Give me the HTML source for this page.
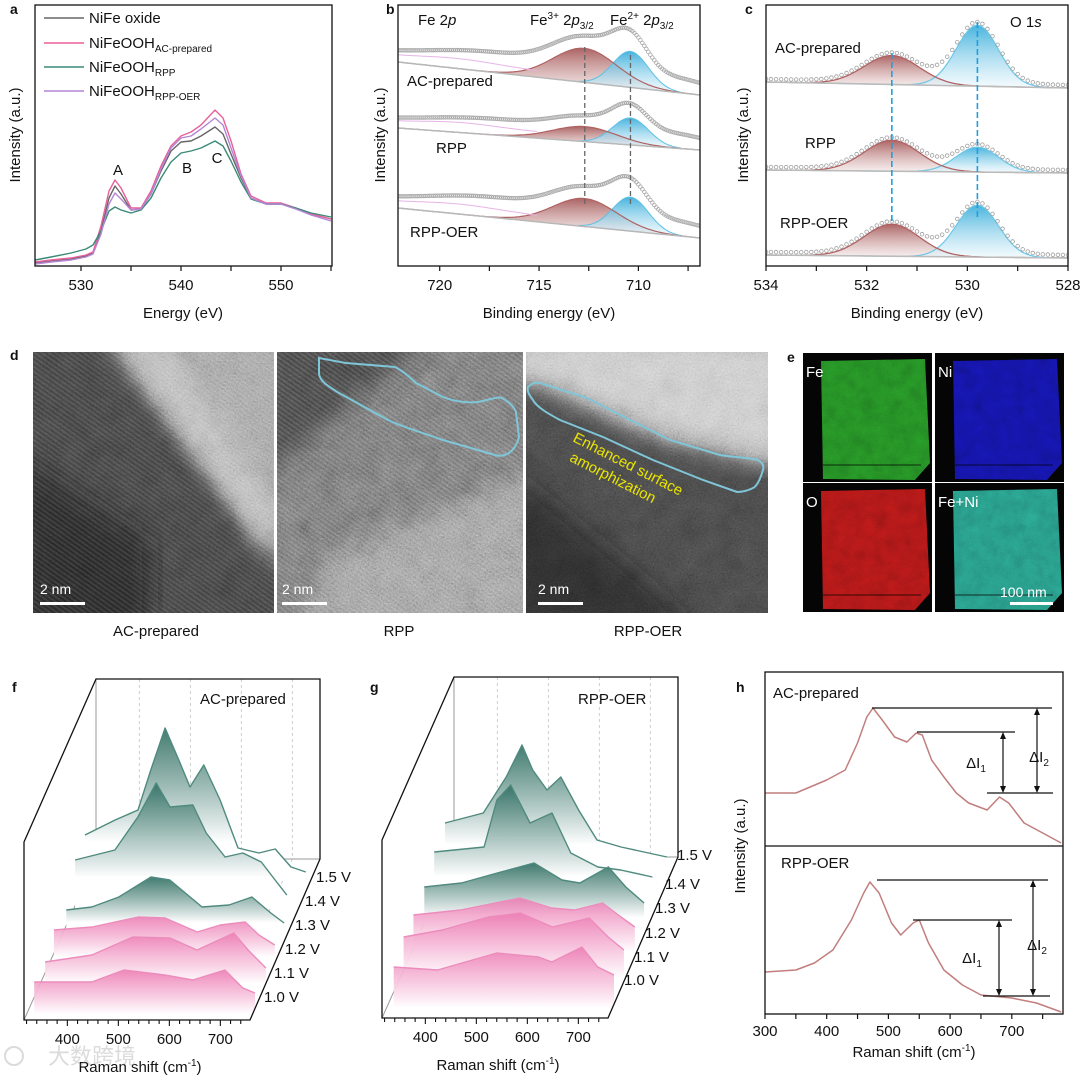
<!DOCTYPE html>
<html><head><meta charset="utf-8"><style>
html,body{margin:0;padding:0;background:#fff;}
svg{display:block;font-family:"Liberation Sans","Noto Sans CJK SC",sans-serif;}
</style></head><body>
<svg id="fig" width="1080" height="1078" viewBox="0 0 1080 1078" xmlns="http://www.w3.org/2000/svg">
<defs>
<filter id="noise" x="0" y="0" width="100%" height="100%"><feTurbulence type="fractalNoise" baseFrequency="0.6" numOctaves="2" seed="4"/><feColorMatrix type="matrix" values="0.33 0.33 0.33 0 0 0.33 0.33 0.33 0 0 0.33 0.33 0.33 0 0 0 0 0 0 1"/></filter>
<filter id="noiseMid" x="0" y="0" width="100%" height="100%"><feTurbulence type="fractalNoise" baseFrequency="0.05" numOctaves="3" seed="7"/><feColorMatrix type="matrix" values="0.33 0.33 0.33 0 0 0.33 0.33 0.33 0 0 0.33 0.33 0.33 0 0 0 0 0 0 1"/></filter>
<filter id="noise2" x="0" y="0" width="100%" height="100%"><feTurbulence type="fractalNoise" baseFrequency="0.08" numOctaves="3" seed="9"/><feColorMatrix type="matrix" values="0.33 0.33 0.33 0 0 0.33 0.33 0.33 0 0 0.33 0.33 0.33 0 0 0 0 0 0 1"/></filter>
<filter id="blur8"><feGaussianBlur stdDeviation="12"/></filter>
<pattern id="fringe" width="4" height="4" patternUnits="userSpaceOnUse" patternTransform="rotate(35)"><rect width="4" height="2" fill="#fff"/></pattern>
<linearGradient id="gRed" x1="0" y1="0" x2="0" y2="1"><stop offset="0" stop-color="#a85c5c" stop-opacity="0.95"/><stop offset="1" stop-color="#f4e8e8" stop-opacity="0.6"/></linearGradient>
<linearGradient id="gBlue" x1="0" y1="0" x2="0" y2="1"><stop offset="0" stop-color="#3fb0dc" stop-opacity="0.95"/><stop offset="1" stop-color="#eaf7fc" stop-opacity="0.6"/></linearGradient>
<linearGradient id="gGreen" x1="0" y1="0" x2="0" y2="1"><stop offset="0" stop-color="#2f6e62" stop-opacity="0.9"/><stop offset="0.75" stop-color="#ffffff"/><stop offset="1" stop-color="#ffffff"/></linearGradient>
<linearGradient id="gPink" x1="0" y1="0" x2="0" y2="1"><stop offset="0" stop-color="#ec7ab2" stop-opacity="0.85"/><stop offset="0.8" stop-color="#ffffff"/><stop offset="1" stop-color="#ffffff"/></linearGradient>
<clipPath id="clipB"><rect x="398" y="5" width="302" height="261"/></clipPath>
<clipPath id="clipC"><rect x="766" y="5" width="302" height="261"/></clipPath>
<clipPath id="clipT1"><rect x="33" y="352" width="241" height="261"/></clipPath>
<clipPath id="clipT2"><rect x="277" y="352" width="246" height="261"/></clipPath>
<clipPath id="clipT3"><rect x="526" y="352" width="242" height="261"/></clipPath>
</defs>

<g font-size="15" fill="#111">
<text x="10" y="14" font-weight="bold" font-size="14">a</text>
<text x="386" y="14" font-weight="bold" font-size="14">b</text>
<text x="745" y="14" font-weight="bold" font-size="14">c</text>
<text x="10" y="360" font-weight="bold" font-size="14">d</text>
<text x="787" y="362" font-weight="bold" font-size="14">e</text>
<text x="12" y="692" font-weight="bold" font-size="14">f</text>
<text x="370" y="692" font-weight="bold" font-size="14">g</text>
<text x="736" y="692" font-weight="bold" font-size="14">h</text>

<text transform="translate(20,135) rotate(-90)" text-anchor="middle">Intensity (a.u.)</text>
<text x="183" y="318" text-anchor="middle">Energy (eV)</text>
<text transform="translate(385,135) rotate(-90)" text-anchor="middle">Intensity (a.u.)</text>
<text x="549" y="318" text-anchor="middle">Binding energy (eV)</text>
<text transform="translate(748,135) rotate(-90)" text-anchor="middle">Intensity (a.u.)</text>
<text x="917" y="318" text-anchor="middle">Binding energy (eV)</text>

<text x="118" y="175" text-anchor="middle">A</text>
<text x="187" y="173" text-anchor="middle">B</text>
<text x="217" y="163" text-anchor="middle">C</text>

<text x="418" y="25">Fe 2<tspan font-style="italic">p</tspan></text>
<text x="530" y="25">Fe<tspan font-size="10" dy="-6">3+</tspan><tspan dy="6"> 2</tspan><tspan font-style="italic">p</tspan><tspan font-size="10" dy="4">3/2</tspan></text>
<text x="610" y="25">Fe<tspan font-size="10" dy="-6">2+</tspan><tspan dy="6"> 2</tspan><tspan font-style="italic">p</tspan><tspan font-size="10" dy="4">3/2</tspan></text>
<text x="407" y="86">AC-prepared</text>
<text x="436" y="153">RPP</text>
<text x="410" y="237">RPP-OER</text>

<text x="1010" y="27">O 1<tspan font-style="italic">s</tspan></text>
<text x="775" y="53">AC-prepared</text>
<text x="805" y="148">RPP</text>
<text x="780" y="228">RPP-OER</text>

<text x="156" y="636" text-anchor="middle">AC-prepared</text>
<text x="399" y="636" text-anchor="middle">RPP</text>
<text x="648" y="636" text-anchor="middle">RPP-OER</text>

<text x="200" y="704">AC-prepared</text>
<text x="578" y="704">RPP-OER</text>
<text x="140" y="1072" text-anchor="middle">Raman shift (cm<tspan font-size="10" dy="-6">-1</tspan><tspan dy="6">)</tspan></text>
<text x="498" y="1070" text-anchor="middle">Raman shift (cm<tspan font-size="10" dy="-6">-1</tspan><tspan dy="6">)</tspan></text>

<text x="773" y="698">AC-prepared</text>
<text x="781" y="868">RPP-OER</text>
<text transform="translate(745,846) rotate(-90)" text-anchor="middle">Intensity (a.u.)</text>
<text x="914" y="1057" text-anchor="middle">Raman shift (cm<tspan font-size="10" dy="-6">-1</tspan><tspan dy="6">)</tspan></text>
</g>

<!-- TEM images -->
<g clip-path="url(#clipT1)">
<rect x="33" y="352" width="241" height="261" fill="#303030"/>
<polygon points="100,330 300,330 300,580" fill="#7a7a7a" filter="url(#blur8)"/>
<polygon points="125,345 160,345 274,510 274,560" fill="#b0b0b0" filter="url(#blur8)" opacity="0.8"/>
<polygon points="20,460 150,540 150,630 20,630" fill="#151515" filter="url(#blur8)" opacity="0.7"/>
<rect x="33" y="352" width="241" height="261" filter="url(#noiseMid)" opacity="0.35" style="mix-blend-mode:overlay"/>
<rect x="33" y="352" width="241" height="261" fill="url(#fringe)" opacity="0.07"/>
<rect x="33" y="352" width="241" height="261" filter="url(#noise)" opacity="0.6" style="mix-blend-mode:overlay"/>
</g>
<g clip-path="url(#clipT2)">
<rect x="277" y="352" width="246" height="261" fill="#555"/>
<polygon points="260,330 440,330 260,480" fill="#303030" filter="url(#blur8)"/>
<polygon points="330,560 540,470 540,630 300,630" fill="#727272" filter="url(#blur8)"/>
<rect x="277" y="352" width="246" height="261" filter="url(#noiseMid)" opacity="0.35" style="mix-blend-mode:overlay"/>
<rect x="277" y="352" width="246" height="261" fill="url(#fringe)" opacity="0.08"/>
<rect x="277" y="352" width="246" height="261" filter="url(#noise)" opacity="0.65" style="mix-blend-mode:overlay"/>
</g>
<g clip-path="url(#clipT3)">
<rect x="526" y="352" width="242" height="261" fill="#353535"/>
<polygon points="510,335 790,335 790,465 660,435 540,382 510,375" fill="#b0b0b0" filter="url(#blur8)"/>
<polygon points="510,470 620,560 700,630 510,630" fill="#181818" filter="url(#blur8)" opacity="0.6"/>
<rect x="526" y="352" width="242" height="261" filter="url(#noiseMid)" opacity="0.35" style="mix-blend-mode:overlay"/>
<rect x="526" y="352" width="242" height="261" filter="url(#noise)" opacity="0.65" style="mix-blend-mode:overlay"/>
</g>
<path d="M319,358 C330,360 340,362 346,363 L395,367 C405,372 410,378 416,383 L443,397 C455,402 470,403 478,402 C490,400 498,396 502,398 C512,404 516,410 516,413 L519,437 C515,452 505,458 495,455 L443,440 C420,432 400,426 388,420 L339,393 C326,385 319,380 319,373 Z" fill="none" stroke="#7fc6d8" stroke-width="2"/>
<path d="M528,387 C532,383 536,382 540,383 L587,398 L630,420 L670,440 L720,455 C740,458 752,458 758,460 C763,463 764,466 763,470 C760,480 757,486 753,488 C747,491 742,492 737,492 L703,480 L653,460 L603,437 L560,420 C545,412 536,406 533,400 C528,394 527,390 528,387 Z" fill="none" stroke="#7fc6d8" stroke-width="2"/>
<g transform="translate(572,441) rotate(27)" font-size="15" fill="#e8e400">
<text x="0" y="0">Enhanced surface</text>
<text x="6" y="19">amorphization</text>
</g>
<g fill="#fff" font-size="14">
<text x="40" y="594">2 nm</text>
<rect x="40" y="602" width="45" height="3"/>
<text x="282" y="594">2 nm</text>
<rect x="282" y="602" width="45" height="3"/>
<text x="538" y="594">2 nm</text>
<rect x="538" y="602" width="45" height="3"/>
</g>

<g id="eds"></g>
<g id="plots"></g>

<g opacity="0.35" fill="#999">
<circle cx="14" cy="1056" r="9" fill="none" stroke="#999" stroke-width="2"/>
<text x="48" y="1064" font-size="22" font-family="'Noto Sans CJK SC',sans-serif">大数跨境</text>
</g>
</svg>

<script>
// ================= DATA =================
const aEnergy = [525.4,527,529,530.5,531.2,532,532.8,533.4,534,535,536,537,538,539,540,541,542,543.4,544.2,545,546,547,548.5,550,551.5,553,555];
const aNiFeOxide = [3,5,7,10,13,35,68,80,72,56,57,72,95,115,124,125,130,139,132,112,88,68,62,62,57,52,47];
const aAcPrepared = [4,6,8,11,14,40,75,86,78,58,58,75,100,120,130,134,141,156,148,125,92,70,63,63,58,52,47];
const aRpp = [6,9,13,17,21,35,55,59,56,53,56,68,88,104,113,115,118,125,120,105,84,67,62,62,58,53,49];
const aRppOer = [2,4,6,9,12,32,62,73,67,56,57,72,97,118,128,130,137,148,141,118,90,68,62,62,57,51,45];
const aSeriesNames = ["NiFe oxide","NiFeOOH","NiFeOOH","NiFeOOH"];
const aSeriesSubs = ["","AC-prepared","RPP","RPP-OER"];
const aTicks = [530,540,550];

const bSamples = ["AC-prepared","RPP","RPP-OER"];
const bBgLeft = [204,138,58];
const bBgRight = [171,116,28];
const bFe3Height = [34,15,28];
const bFe2Height = [36,27,34];
const bSatHeight = [12,8,12];
const bFe3Center = 712.7, bFe2Center = 710.4;
const bTicks = [720,715,710];

const cBgLeft = [184,96,11];
const cBgRight = [178,93,8];
const cOxHeight = [29,31,32];
const cLatHeight = [61,25,52];
const cOxCenter = 531.5, cLatCenter = 529.8;
const cTicks = [534,532,530,528];

const ramanVoltages = ["1.0 V","1.1 V","1.2 V","1.3 V","1.4 V","1.5 V"];
const ramanTicks = [400,500,600,700];
const fR = [
 [335,448,511,591,646,709,744,768],
 [332,424,504,577,630,702,730,765],
 [325,400,490,543,606,651,700,727,758],
 [325,375,428,491,528,591,644,689,726,752],
 [318,396,441,477,504,549,575,612,647,683,710,733],
 [313,372,417,442,470,497,519,546,578,613,654,686,717,746]
];
const fH = [
 [13,13,25,20,15,25,7,2],
 [4,11,29,28,16,33,16,-2],
 [7,10,20,19,5,12,15,2,-8],
 [-2,1,11,31,28,1,3,11,-5,-15],
 [19,29,62,96,72,74,46,22,26,17,-1,-16],
 [15,30,40,80,122,90,63,85,50,2,-3,1,-17,-22]
];
const gR = [
 [338,424,540,622,648,707,738,770],
 [333,409,499,562,625,697,734,765],
 [328,420,537,599,644,699,735,762],
 [325,398,468,540,595,630,686,720,756],
 [320,418,443,470,508,551,588,641,686,748],
 [317,392,437,468,489,517,544,579,615,662,707,752]
];
const gH = [
 [26,23,40,36,31,46,26,18],
 [27,34,47,51,37,46,27,14],
 [20,25,37,27,25,32,18,8],
 [19,23,33,43,26,23,39,19,3],
 [25,30,77,92,54,64,24,10,7,0],
 [25,35,71,103,78,58,71,38,8,1,-4,-9]
];

const hAcShift = [300,350,400,430,450,465,475,490,510,530,545,555,570,590,610,630,660,680,695,720,750,780];
const hAcInt = [53,53,66,76,103,129,138,126,109,104,113,111,86,69,53,43,36,49,43,23,13,3];
const hOerShift = [300,350,380,410,440,460,470,485,505,520,540,550,565,590,620,650,700,740,780];
const hOerInt = [42,44,51,64,94,121,132,121,91,79,91,94,71,44,29,19,16,11,2];
const hTicks = [300,400,500,600,700];

// ================= HELPERS =================
const NS = "http://www.w3.org/2000/svg";
const root = document.getElementById("plots");
function mk(tag, attrs, parent) {
  const e = document.createElementNS(NS, tag);
  for (const k in attrs) e.setAttribute(k, attrs[k]);
  (parent || root).appendChild(e);
  return e;
}
function nm(el, n) {
  
  
}
function gauss(x, c, h, s) { return h * Math.exp(-(x - c) * (x - c) / (2 * s * s)); }
function pathOf(pts) { return pts.map((p, i) => (i ? "L" : "M") + p[0].toFixed(1) + "," + p[1].toFixed(1)).join(""); }
function txt(x, y, s, parent, anchor, size) {
  const t = mk("text", {x: x, y: y, "font-size": size || 15, "text-anchor": anchor || "middle", fill: "#111"}, parent);
  t.textContent = s;
  return t;
}

// ================= PANEL A =================
const xa = e => 35 + (e - 525.4) * (297 / 29.7);
const ya = v => 266 - v;
{
  const g = mk("g", {});
  nm(g, "panel-a-chart");
  const colors = ["#666666", "#e8609a", "#3a8a78", "#b486d6"];
  const series = [aNiFeOxide, aAcPrepared, aRpp, aRppOer];
  const names = ["line-nife-oxide", "line-ac-prepared", "line-rpp", "line-rpp-oer"];
  series.forEach((s, k) => {
    const pts = aEnergy.map((e, i) => [xa(e), ya(s[i])]);
    const p = mk("path", {d: pathOf(pts), fill: "none", stroke: colors[k], "stroke-width": 1.4, "stroke-linejoin": "round"}, g);
    nm(p, names[k]);
  });
  const frame = mk("rect", {x: 35, y: 5, width: 297, height: 261, fill: "none", stroke: "#111", "stroke-width": 1.3}, g);
  nm(frame, "a-plot-frame");
  for (let e = 530; e <= 555; e += 5) {
    const t = mk("line", {x1: xa(e), x2: xa(e), y1: 266, y2: 271, stroke: "#111", "stroke-width": 1.2}, g);
    nm(t, "a-x-tick");
  }
  aTicks.forEach(v => { const t = txt(xa(v), 290, String(v), g); nm(t, "a-x-tick-label"); });
  const ly = [18, 43, 67, 91];
  aSeriesNames.forEach((n, k) => {
    const l = mk("line", {x1: 44, x2: 84, y1: ly[k], y2: ly[k], stroke: colors[k], "stroke-width": 1.6}, g);
    nm(l, "legend-line-" + names[k].slice(5));
    const t = mk("text", {x: 89, y: ly[k] + 5, "font-size": 15, fill: "#111"}, g);
    nm(t, "legend-entry-" + names[k].slice(5));
    t.textContent = n;
    if (aSeriesSubs[k]) {
      const ts = mk("tspan", {"font-size": 10, dy: 4}, t);
      ts.textContent = aSeriesSubs[k];
    }
  });
}

// ================= PANEL B =================
const xb = e => 398 + (722.1 - e) * (302 / 15.2);
const yb = v => 266 - v;
{
  const g = mk("g", {"clip-path": "url(#clipB)"});
  nm(g, "panel-b-chart");
  const es = [];
  for (let e = 722.1; e >= 706.8; e -= 0.1) es.push(e);
  bSamples.forEach((s, k) => {
    const bg = e => bBgLeft[k] + (bBgRight[k] - bBgLeft[k]) * (722.1 - e) / 15.2;
    const red = e => gauss(e, bFe3Center, bFe3Height[k], 1.6);
    const blue = e => gauss(e, bFe2Center, bFe2Height[k], 0.9);
    const sat = e => gauss(e, 717.5, bSatHeight[k], 3) + 8 + gauss(e, 708, 6, 1.2);
    const key = s.toLowerCase();
    const pr = es.map(e => [xb(e), yb(bg(e) + red(e))]);
    const bgp = es.map(e => [xb(e), yb(bg(e))]).reverse();
    const fr = mk("path", {d: pathOf(pr.concat(bgp)) + "Z", fill: "url(#gRed)", stroke: "none"}, g);
    nm(fr, "b-fe3-peak-" + key);
    const pb = es.filter(e => blue(e) > 0.5).map(e => [xb(e), yb(bg(e) + blue(e))]);
    const bgb = es.filter(e => blue(e) > 0.5).map(e => [xb(e), yb(bg(e))]).reverse();
    const fb = mk("path", {d: pathOf(pb.concat(bgb)) + "Z", fill: "url(#gBlue)", stroke: "#5cc0e4", "stroke-width": 1}, g);
    nm(fb, "b-fe2-peak-" + key);
    const lr = mk("path", {d: pathOf(pr), fill: "none", stroke: "#b06262", "stroke-width": 1.2}, g);
    nm(lr, "b-fe3-fit-line-" + key);
    const lb = mk("path", {d: pathOf(bgp), fill: "none", stroke: "#b8b8b8", "stroke-width": 1.5}, g);
    nm(lb, "b-background-" + key);
    const lp = mk("path", {d: pathOf(es.filter(e => e > 715).map(e => [xb(e), yb(bg(e) + 6 + gauss(e, 719, 4, 2))])), fill: "none", stroke: "#e6b4e6", "stroke-width": 1}, g);
    nm(lp, "b-satellite-fit-" + key);
    const dots = mk("g", {fill: "none", stroke: "#a8a8a8", "stroke-width": 0.8}, g);
    nm(dots, "b-data-points-" + key);
    for (let i = 0; i < es.length; i += 1) {
      const e = es[i];
      const c = mk("circle", {cx: xb(e), cy: yb(bg(e) + red(e) + blue(e) + sat(e)), r: 1.8}, dots);
      nm(c, "b-data-point");
    }
  });
  [[bFe3Center, 47], [bFe2Center, 55]].forEach(([e, top], k) => {
    const l = mk("line", {x1: xb(e), x2: xb(e), y1: top, y2: 205, stroke: "#666", "stroke-width": 1.3, "stroke-dasharray": "5,3"}, g);
    nm(l, k ? "b-fe2-guide-line" : "b-fe3-guide-line");
  });
  const frame = mk("rect", {x: 398, y: 5, width: 302, height: 261, fill: "none", stroke: "#111", "stroke-width": 1.3});
  nm(frame, "b-plot-frame");
  for (let e = 720; e >= 707.5; e -= 2.5) {
    const t = mk("line", {x1: xb(e), x2: xb(e), y1: 266, y2: 271, stroke: "#111", "stroke-width": 1.2});
    nm(t, "b-x-tick");
  }
  bTicks.forEach(v => { const t = txt(xb(v), 290, String(v)); nm(t, "b-x-tick-label"); });
}

// ================= PANEL C =================
const xc = e => 766 + (534 - e) * (302 / 6);
const yc = v => 266 - v;
{
  const g = mk("g", {"clip-path": "url(#clipC)"});
  nm(g, "panel-c-chart");
  const es = [];
  for (let e = 534; e >= 527.95; e -= 0.05) es.push(e);
  bSamples.forEach((s, k) => {
    const key = s.toLowerCase();
    const bg = e => cBgLeft[k] + (cBgRight[k] - cBgLeft[k]) * (534 - e) / 6;
    const red = e => gauss(e, cOxCenter, cOxHeight[k], 0.55);
    const blue = e => gauss(e, cLatCenter, cLatHeight[k], 0.42);
    const pr = es.map(e => [xc(e), yc(bg(e) + red(e))]);
    const bgp = es.map(e => [xc(e), yc(bg(e))]).reverse();
    const fr = mk("path", {d: pathOf(pr.concat(bgp)) + "Z", fill: "url(#gRed)"}, g);
    nm(fr, "c-oxygen-peak-" + key);
    const sel = es.filter(e => blue(e) > 2);
    const pb = sel.map(e => [xc(e), yc(bg(e) + blue(e))]);
    const fb = mk("path", {d: pathOf(pb.concat(sel.map(e => [xc(e), yc(bg(e))]).reverse())) + "Z", fill: "url(#gBlue)"}, g);
    nm(fb, "c-lattice-peak-" + key);
    const bl = mk("path", {d: pathOf(es.map(e => [xc(e), yc(bg(e) + blue(e))])), fill: "none", stroke: "#6cc6e6", "stroke-width": 1.2}, g);
    nm(bl, "c-lattice-fit-line-" + key);
    const rl = mk("path", {d: pathOf(pr), fill: "none", stroke: "#b06262", "stroke-width": 1.3}, g);
    nm(rl, "c-oxygen-fit-line-" + key);
    const bgl = mk("line", {x1: 766, x2: 1068, y1: yc(cBgLeft[k]), y2: yc(cBgRight[k]), stroke: "#bbbbbb", "stroke-width": 1.6}, g);
    nm(bgl, "c-background-" + key);
    const dots = mk("g", {fill: "none", stroke: "#a0a0a0", "stroke-width": 0.8}, g);
    nm(dots, "c-data-points-" + key);
    for (let i = 0; i < es.length; i += 2) {
      const e = es[i];
      const c = mk("circle", {cx: xc(e), cy: yc(bg(e) + red(e) + blue(e) + 3), r: 1.8}, dots);
      nm(c, "c-data-point");
    }
  });
  const l1 = mk("line", {x1: xc(cOxCenter), x2: xc(cOxCenter), y1: 53, y2: 223, stroke: "#1ea0e0", "stroke-width": 1.6, "stroke-dasharray": "6,3"}, g);
  nm(l1, "c-oxygen-guide-line");
  const l2 = mk("line", {x1: xc(cLatCenter), x2: xc(cLatCenter), y1: 22, y2: 217, stroke: "#1ea0e0", "stroke-width": 1.6, "stroke-dasharray": "6,3"}, g);
  nm(l2, "c-lattice-guide-line");
  const frame = mk("rect", {x: 766, y: 5, width: 302, height: 261, fill: "none", stroke: "#111", "stroke-width": 1.3});
  nm(frame, "c-plot-frame");
  for (let e = 534; e >= 528; e -= 1) {
    const t = mk("line", {x1: xc(e), x2: xc(e), y1: 266, y2: 271, stroke: "#111", "stroke-width": 1.2});
    nm(t, "c-x-tick");
  }
  cTicks.forEach(v => { const t = txt(xc(v), 290, String(v)); nm(t, "c-x-tick-label"); });
}

// ================= PANEL E (EDS) =================
{
  const eg = document.getElementById("eds");
  const tiles = [[803,353,"Fe","#2fb52f"],[935,353,"Ni","#1a1ad2"],[803,483,"O","#dc1e1e"],[935,483,"Fe+Ni","#33c4ae"]];
  tiles.forEach(([x, y, lab, col]) => {
    const tg = mk("g", {}, eg);
    nm(tg, "eds-map-" + lab.toLowerCase().replace("+", "-"));
    mk("rect", {x: x, y: y, width: 129, height: 129, fill: "#050505"}, tg);
    mk("polygon", {points: [x+18,y+8, x+122,y+6, x+127,y+110, x+112,y+127, x+20,y+126].join(","), fill: col}, tg);
    mk("rect", {x: x+18, y: y+6, width: 110, height: 121, fill: "#000", filter: "url(#noise2)", opacity: 0.45, style: "mix-blend-mode:multiply"}, tg);
    mk("rect", {x: x+18, y: y+6, width: 110, height: 121, fill: "#000", filter: "url(#noise)", opacity: 0.25, style: "mix-blend-mode:multiply"}, tg);
    mk("line", {x1: x+20, x2: x+118, y1: y+112, y2: y+112, stroke: "#000", "stroke-opacity": 0.35, "stroke-width": 2}, tg);
    const t = mk("text", {x: x+3, y: y+24, "font-size": 15, fill: "#fff"}, tg);
    t.textContent = lab;
  });
  const sb = mk("text", {x: 1000, y: 597, "font-size": 14, fill: "#fff"}, eg);
  nm(sb, "eds-scale-bar-text");
  sb.textContent = "100 nm";
  const sr = mk("rect", {x: 1010, y: 602, width: 43, height: 3, fill: "#fff"}, eg);
  nm(sr, "eds-scale-bar");
}

// ================= PANELS F, G =================
function ridge(R, H, dx, dy, prefix, labelPos) {
  const g = mk("g", {});
  nm(g, prefix + "-waterfall-chart");
  const xr = r => 24 + dx + (r - 315) * 0.51;
  const X = (r, i) => xr(r) + 12.4 * i;
  const Y = (h, i) => 995 + dy - 29 * i - h;
  const wl = 96 + dx, wr = 320 + dx, wt = 679 + dy, wb = 859 + dy, fl = 24 + dx, fb = 1020 + dy, fr = 250 + dx, ft = 842 + dy;
  const gl = mk("g", {stroke: "#c8c8c8", "stroke-width": 0.9, "stroke-dasharray": "3,3"}, g);
  nm(gl, prefix + "-gridlines");
  ramanTicks.forEach(v => {
    mk("line", {x1: xr(v) + 72, x2: xr(v) + 72, y1: wt, y2: wb}, gl);
    mk("line", {x1: xr(v) + 72, x2: xr(v), y1: wb, y2: fb}, gl);
  });
  const wall = mk("path", {d: `M${wl},${wb}L${wl},${wt}M${wl},${wb}L${wr},${wb}M${wl},${wb}L${fl},${fb}`, stroke: "#999", "stroke-width": 1, fill: "none"}, g);
  nm(wall, prefix + "-back-wall-edges");
  for (let i = 5; i >= 0; i--) {
    const col = i >= 3 ? "#4f8a7e" : "#ec8cbc";
    const fill = i >= 3 ? "url(#gGreen)" : "url(#gPink)";
    const pts = R[i].map((r, j) => [X(r, i), Y(H[i][j], i)]);
    const base = Y(-30, i);
    const poly = pathOf(pts) + `L${pts[pts.length - 1][0].toFixed(1)},${base}L${pts[0][0].toFixed(1)},${base}Z`;
    const a = mk("path", {d: poly, fill: fill, stroke: "none"}, g);
    nm(a, prefix + "-area-" + ramanVoltages[i].replace(" ", "").replace(".", "p").toLowerCase());
    const l = mk("path", {d: pathOf(pts), fill: "none", stroke: col, "stroke-width": 1.4, "stroke-linejoin": "round"}, g);
    nm(l, prefix + "-spectrum-" + ramanVoltages[i].replace(" ", "").replace(".", "p").toLowerCase());
    const t = mk("text", {x: labelPos[i][0], y: labelPos[i][1], "font-size": 15, fill: "#111"}, g);
    nm(t, prefix + "-voltage-label");
    t.textContent = ramanVoltages[i];
  }
  const fr1 = mk("path", {d: `M${wl},${wt}L${wr},${wt}L${wr},${wb}L${fr},${fb}L${fl},${fb}L${fl},${ft}Z`, stroke: "#111", "stroke-width": 1.3, fill: "none"}, g);
  nm(fr1, prefix + "-frame");
  for (let v = 320; v <= 740; v += 20) {
    const t = mk("line", {x1: xr(v), x2: xr(v), y1: fb, y2: fb + (v % 100 === 0 ? 6 : 4), stroke: "#111", "stroke-width": 1.1}, g);
    nm(t, prefix + "-x-tick");
  }
  ramanTicks.forEach(v => { const t = txt(xr(v), fb + 24, String(v), g); nm(t, prefix + "-x-tick-label"); });
}
ridge(fR, fH, 0, 0, "f", [[264,1002],[274,978],[285,954],[295,930],[305,906],[316,882]]);
ridge(gR, gH, 358, -2, "g", [[624,985],[634,962],[645,938],[655,913],[665,889],[677,860]]);

// ================= PANEL H =================
{
  const g = mk("g", {});
  nm(g, "panel-h-chart");
  const xh = r => 765 + (r - 300) * 0.617;
  const yTop = v => 846 - v;
  const yBot = v => 1014 - v;
  const c1 = mk("path", {d: pathOf(hAcShift.map((r, i) => [xh(r), yTop(hAcInt[i])])), fill: "none", stroke: "#c27e7e", "stroke-width": 1.5, "stroke-linejoin": "round"}, g);
  nm(c1, "h-spectrum-ac-prepared");
  const c2 = mk("path", {d: pathOf(hOerShift.map((r, i) => [xh(r), yBot(hOerInt[i])])), fill: "none", stroke: "#c27e7e", "stroke-width": 1.5, "stroke-linejoin": "round"}, g);
  nm(c2, "h-spectrum-rpp-oer");
  const fr = mk("rect", {x: 765, y: 672, width: 298, height: 342, fill: "none", stroke: "#111", "stroke-width": 1.3}, g);
  nm(fr, "h-plot-frame");
  const dv = mk("line", {x1: 765, x2: 1063, y1: 846, y2: 846, stroke: "#111", "stroke-width": 1.3}, g);
  nm(dv, "h-panel-divider");
  for (let v = 300; v <= 750; v += 50) {
    const t = mk("line", {x1: xh(v), x2: xh(v), y1: 1014, y2: 1019, stroke: "#111", "stroke-width": 1.2}, g);
    nm(t, "h-x-tick");
  }
  hTicks.forEach(v => { const t = txt(xh(v), 1036, String(v), g); nm(t, "h-x-tick-label"); });
  const ann = mk("g", {stroke: "#111", "stroke-width": 1.2, fill: "#111"}, g);
  nm(ann, "h-delta-annotations");
  const hl = [[872,1052,708],[917,1015,732],[987,1053,793],[877,1048,880],[913,1012,920],[983,1050,996]];
  hl.forEach(([a, b, y]) => mk("line", {x1: a, x2: b, y1: y, y2: y}, ann));
  const arrows = [[1003,732,793],[1037,708,793],[999,920,996],[1033,880,996]];
  arrows.forEach(([x, a, b]) => {
    mk("line", {x1: x, x2: x, y1: a + 5, y2: b - 5}, ann);
    mk("polygon", {points: `${x},${a} ${x - 3},${a + 7} ${x + 3},${a + 7}`, stroke: "none"}, ann);
    mk("polygon", {points: `${x},${b} ${x - 3},${b - 7} ${x + 3},${b - 7}`, stroke: "none"}, ann);
  });
  const labs = [[976,768,"1"],[1039,762,"2"],[972,963,"1"],[1037,950,"2"]];
  labs.forEach(([x, y, s]) => {
    const t = mk("text", {x: x, y: y, "font-size": 15, fill: "#111", "text-anchor": "middle", stroke: "none"}, g);
    nm(t, "h-delta-i" + s + "-label");
    t.textContent = "ΔI";
    const ts = mk("tspan", {"font-size": 10, dy: 4}, t);
    ts.textContent = s;
  });
}
</script>
</body></html>
